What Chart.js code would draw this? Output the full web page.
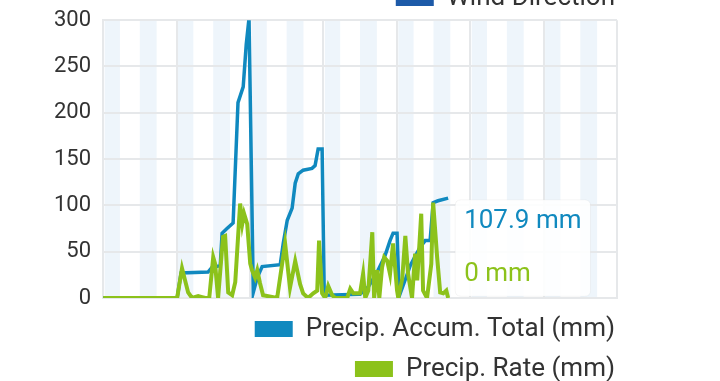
<!DOCTYPE html>
<html>
<head>
<meta charset="utf-8">
<script src="https://cdn.jsdelivr.net/npm/chart.js@4"></script>
<style>
  html, body { margin: 0; padding: 0; background: #fff; overflow: hidden; }
  #wrap { position: relative; width: 720px; height: 381px; overflow: hidden; }
  #main { position: absolute; left: 0; top: -5px; }
  #wind { position: absolute; left: 0; top: -29px; }
</style>
</head>
<body>
<div id="wrap">
  <canvas id="main" width="629" height="397"></canvas>
  <canvas id="wind" width="629" height="90"></canvas>
</div>
<script>
"use strict"

// hours since start of the week, and readings
const accumHours = [0, 24.2, 25.5, 34.3, 35.6, 38.3, 38.9, 40.5, 42.5, 44.1, 45.8, 46.8, 47.7, 49.1, 50.4, 52.0,
    57.9, 58.9, 60.2, 61.8, 62.8, 63.8, 65.4, 68.3, 69.3, 70.3, 71.6, 72.3, 84.0, 86.7, 89.6, 92.2, 93.8, 94.8,
    96.1, 96.8, 98.8, 100.4, 102.0, 103.7, 105.3, 106.9, 107.9, 109.5, 112.8];
const accumValues = [0, 0, 27, 28, 33, 35, 70, 75, 81, 211, 228, 274, 302, 6, 22, 34,
    36, 59, 84, 97, 124, 134, 138, 140, 143, 161, 161, 3, 4, 12, 28, 46, 62, 70,
    70, 2, 20, 35, 45, 55, 62, 62, 103, 105, 107.9];

const rateHours = [0, 24.2, 25.8, 27.8, 29.1, 31.1, 32.4, 33.4, 34.7, 36.0, 36.6, 37.6, 39.2, 39.9, 40.9, 42.2,
    43.2, 44.8, 45.5, 46.1, 47.1, 48.1, 48.7, 49.7, 50.4, 51.3, 52.3, 56.9, 59.5, 61.1, 62.8, 64.4, 65.4, 67.0,
    68.7, 70.0, 70.6, 71.6, 72.6, 73.6, 74.9, 75.9, 79.8, 80.8, 81.8, 84.0, 85.0, 85.7, 86.7, 88.0, 88.6, 89.6,
    90.3, 91.2, 91.9, 92.9, 93.8, 94.8, 96.1, 96.5, 97.8, 98.8, 99.7, 101.0, 102.0, 102.7, 104.0, 104.6, 105.9,
    107.3, 107.9, 109.2, 110.2, 111.2, 112.2, 112.8];
const rateValues = [0, 0, 32, 6, 0, 2, 1, 0, 0, 44, 37, 0, 66, 67, 6, 3,
    17, 102, 80, 91, 80, 37, 30, 22, 30, 16, 3, 0, 59, 11, 40, 15, 5, 0,
    5, 8, 62, 5, 0, 13, 3, 0, 0, 10, 5, 5, 26, 0, 8, 71, 0, 30,
    0, 33, 44, 40, 26, 59, 8, 0, 21, 67, 26, 0, 48, 19, 91, 8, 0,
    37, 103, 44, 6, 5, 8, 0];

const yTicks = [0, 50, 100, 150, 200, 250, 300];

// night shading, [from, to] in hours
const nightBands = [
    [0.5, 5.5], [12, 17.5], [24.5, 29.5], [36, 41.5], [48.5, 53.5], [60, 65.5], [72.5, 77.5],
    [84, 89.5], [96.5, 101.5], [108, 113.5], [120.5, 125.5], [132, 137.5], [144.5, 149.5], [156, 161.5]
];

const blue = '#1089bf';
const green = '#8cc21b';
const grid = '#e6e8ea';

Chart.defaults.font.family = 'Roboto';
Chart.defaults.color = '#333';

const noStroke = (chart) => Chart.defaults.plugins.legend.labels.generateLabels(chart)
    .map(item => Object.assign(item, {lineWidth: 0}));

const bands = {
    id: 'bands',
    beforeDraw(chart) {
        const {ctx, chartArea, scales} = chart;
        ctx.save();
        ctx.fillStyle = '#eef5fb';
        nightBands.forEach(([a, b]) => {
            const x1 = scales.x.getPixelForValue(a);
            const x2 = scales.x.getPixelForValue(b);
            ctx.fillRect(x1, chartArea.top, x2 - x1, chartArea.bottom - chartArea.top);
        });
        ctx.restore();
    }
};

let config = {
    type: 'line',
    data: {
        datasets: [
            {
                label: 'Precip. Accum. Total (mm)',
                data: accumHours.map((h, i) => ({x: h, y: accumValues[i]})),
                borderColor: blue,
                backgroundColor: blue,
                borderWidth: 3.5,
                pointRadius: 0,
                order: 1
            },
            {
                label: 'Precip. Rate (mm)',
                data: rateHours.map((h, i) => ({x: h, y: rateValues[i]})),
                borderColor: green,
                backgroundColor: green,
                borderWidth: 4,
                pointRadius: 0,
                order: 0
            }
        ]
    },
    options: {
        responsive: false,
        animation: false,
        events: [],
        layout: {padding: {top: 2, left: 42, right: 0, bottom: 0}},
        scales: {
            x: {
                type: 'linear',
                min: 0,
                max: 168,
                ticks: {stepSize: 24, display: false},
                grid: {color: grid, lineWidth: 2, drawTicks: false},
                border: {color: grid, width: 2},
                afterFit: s => { s.height = 4; }
            },
            y: {
                min: 0,
                max: 300,
                afterBuildTicks: s => { s.ticks = yTicks.map(v => ({value: v})); },
                ticks: {padding: 12, font: {size: 22}, color: '#333'},
                grid: {color: grid, lineWidth: 2, drawTicks: false},
                border: {color: grid, width: 2}
            },
            yr: {
                position: 'right',
                ticks: {display: false},
                grid: {display: false},
                border: {display: false},
                afterFit: s => { s.width = 12; }
            }
        },
        plugins: {
            legend: {
                position: 'bottom',
                align: 'end',
                labels: {
                    boxWidth: 38,
                    boxHeight: 16,
                    padding: 14,
                    font: {size: 26},
                    color: '#333',
                    sort: (a, b) => a.datasetIndex - b.datasetIndex,
                    generateLabels: noStroke
                }
            },
            tooltip: {
                backgroundColor: 'rgba(255,255,255,0.88)',
                borderColor: 'rgba(0,0,0,0.04)',
                borderWidth: 1,
                cornerRadius: 6,
                padding: {x: 9, y: 6},
                caretSize: 0,
                caretPadding: 7,
                xAlign: 'left',
                yAlign: 'center',
                displayColors: false,
                bodyFont: {size: 26},
                bodySpacing: 22,
                itemSort: (a, b) => a.datasetIndex - b.datasetIndex,
                callbacks: {
                    title: () => '',
                    label: ctx => ctx.parsed.y + ' mm',
                    labelTextColor: ctx => ctx.dataset.borderColor
                }
            }
        }
    },
    plugins: [bands]
};

const canvas = document.getElementById('main').getContext('2d');
const chart1 = new Chart(canvas, config);
chart1.tooltip.setActiveElements([
    {datasetIndex: 0, index: accumValues.length - 1},
    {datasetIndex: 1, index: rateValues.length - 1}
], {x: 0, y: 0});
chart1.update();

// legend of the wind chart above, mostly out of view
config = {
    type: 'line',
    data: {
        datasets: [
            {
                label: 'Wind Direction',
                data: [],
                borderColor: '#1d5aa8',
                backgroundColor: '#1d5aa8'
            }
        ]
    },
    options: {
        responsive: false,
        animation: false,
        events: [],
        scales: {x: {display: false}, y: {display: false}},
        plugins: {
            tooltip: {enabled: false},
            legend: {
                position: 'top',
                align: 'end',
                labels: {
                    boxWidth: 38,
                    boxHeight: 16,
                    padding: 14,
                    font: {size: 26},
                    color: '#333',
                    generateLabels: noStroke
                }
            }
        }
    }
};

const canvas2 = document.getElementById('wind').getContext('2d');
const chart2 = new Chart(canvas2, config);
</script>
</body>
</html>
